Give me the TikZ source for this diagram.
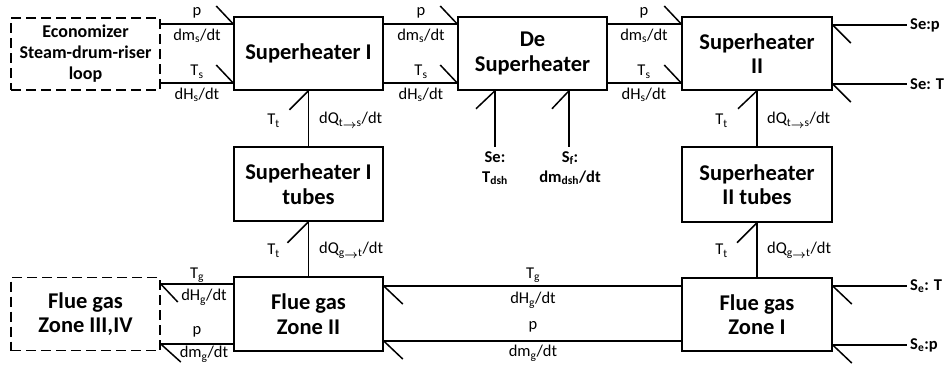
\documentclass[tikz,border=0pt]{standalone}
\usepackage{fontspec}
\usepackage{amsmath}
\setmainfont{Carlito}
\tikzset{
  x=1pt, y=-1pt,
  blk/.style={draw, line width=1.5pt, inner sep=0pt, align=center, font=\fontsize{22.5}{24.5}\selectfont\bfseries},
  dblk/.style={blk, dash pattern=on 10pt off 5pt},
  bond/.style={line width=1.5pt},
  lbl/.style={inner sep=0pt, font=\fontsize{16.5}{18}\selectfont},
  blbl/.style={inner sep=0pt, anchor=west, font=\fontsize{16.5}{18}\selectfont\bfseries},
}
\newcommand{\sub}[1]{\textsubscript{#1}}
\newcommand{\arr}{\raisebox{-2pt}{$\boldsymbol{\rightarrow}$}}
\begin{document}
\begin{tikzpicture}
\useasboundingbox (0,0) rectangle (952,365);
% blocks
\node[dblk, minimum width=149pt, minimum height=72pt, font=\fontsize{18}{21}\selectfont\bfseries] (econ) at (85.5,54) {Economizer\\Steam-drum-riser\\loop};
\node[blk, minimum width=149pt, minimum height=73pt] (sh1) at (308.5,53.5) {Superheater I};
\node[blk, minimum width=149pt, minimum height=73pt] (dsh) at (532.5,53.5) {De\\Superheater};
\node[blk, minimum width=150pt, minimum height=73pt] (sh2) at (757,53.5) {Superheater\\II};
\node[blk, minimum width=149pt, minimum height=74pt] (sh1t) at (308.5,184) {Superheater I\\tubes};
\node[blk, minimum width=150pt, minimum height=75pt] (sh2t) at (757,184.5) {Superheater\\II tubes};
\node[dblk, minimum width=149pt, minimum height=73pt] (fg34) at (85.5,314) {Flue gas\\Zone III,IV};
\node[blk, minimum width=149pt, minimum height=74pt] (fg2) at (308.5,314) {Flue gas\\Zone II};
\node[blk, minimum width=150pt, minimum height=73pt] (fg1) at (757,314.5) {Flue gas\\Zone I};
% free ends
\coordinate (o1) at (907,25);
\coordinate (o2) at (907,84);
\coordinate (o3) at (907,286);
\coordinate (o4) at (907,345);
\coordinate (d1) at (495,147);
\coordinate (d2) at (569,147);
% top bonds
\foreach \a/\b in {econ/sh1, sh1/dsh, dsh/sh2}{
  \draw[bond] (\a.east |- 0,24) -- (\b.west |- 0,24);
  \draw[bond] (\b.west |- 0,24) -- ++(-17,-18);
  \draw[bond] (\a.east |- 0,83) -- (\b.west |- 0,83);
  \draw[bond] (\b.west |- 0,83) -- ++(-17,-18);
}
% sh2 outputs
\draw[bond] (sh2.east |- o1) -- (o1);
\draw[bond] (sh2.east |- o1) -- ++(18,18);
\draw[bond] (sh2.east |- o2) -- (o2);
\draw[bond] (sh2.east |- o2) -- ++(18,18);
\node[blbl] (lo1) at ([xshift=3pt]o1) {Se:p};
\node[blbl] (lo2) at ([xshift=3pt]o2) {Se: T};
% vertical bonds
\draw[bond] (sh1.south) -- (sh1t.north);
\draw[bond] (sh1.south) -- ++(-19,19);
\draw[bond] (sh1t.south) -- (fg2.north);
\draw[bond] (sh1t.south) -- ++(-21,21);
\draw[bond] (sh2.south) -- (sh2t.north);
\draw[bond] (sh2.south) -- ++(-19,18);
\draw[bond] (sh2t.south) -- (fg1.north);
\draw[bond] (sh2t.south) -- ++(-20,20);
% desuperheater inputs
\draw[bond] (dsh.south -| d1) -- (d1);
\draw[bond] (dsh.south -| d1) -- ++(-19,18);
\draw[bond] (dsh.south -| d2) -- (d2);
\draw[bond] (dsh.south -| d2) -- ++(-17,18);
\node[lbl, font=\fontsize{16.5}{20}\selectfont\bfseries, align=center] (ld1) at (495,168) {Se:\\T\sub{dsh}};
\node[lbl, font=\fontsize{16.5}{20}\selectfont\bfseries, align=center] (ld2) at (570,168) {S\sub{f}:\\dm\sub{dsh}/dt};
% bottom bonds
\draw[bond] (fg34.east |- 0,284) -- (fg2.west |- 0,284);
\draw[bond] (fg34.east |- 0,284) -- ++(17,18);
\draw[bond] (fg34.east |- 0,344) -- (fg2.west |- 0,344);
\draw[bond] (fg34.east |- 0,344) -- ++(20,18);
\draw[bond] (fg2.east |- 0,286) -- (fg1.west |- 0,286);
\draw[bond] (fg2.east |- 0,286) -- ++(19,18);
\draw[bond] (fg2.east |- 0,341) -- (fg1.west |- 0,341);
\draw[bond] (fg2.east |- 0,341) -- ++(19,18);
\draw[bond] (fg1.east |- o3) -- (o3);
\draw[bond] (fg1.east |- o3) -- ++(19,18);
\draw[bond] (fg1.east |- o4) -- (o4);
\draw[bond] (fg1.east |- o4) -- ++(19,18);
\node[blbl] (lo3) at ([xshift=3pt]o3) {S\sub{e}: T};
\node[blbl] (lo4) at ([xshift=3pt]o4) {S\sub{e}:p};
% top labels
\foreach \x/\n in {197/a, 421/b, 644/c}{
  \node[lbl] (p\n) at (\x,13) {p};
  \node[lbl] (m\n) at (\x,36) {dm\sub{s}/dt};
  \node[lbl] (t\n) at (\x,72) {T\sub{s}};
  \node[lbl] (h\n) at (\x,95) {dH\sub{s}/dt};
}
% vertical labels
\foreach \x/\n in {309/a, 757/b}{
  \node[lbl, anchor=east] (tt1\n) at (\x-29,121) {T\sub{t}};
  \node[lbl, anchor=west] (qs\n) at (\x+10,120) {dQ\sub{t\arr s}/dt};
  \node[lbl, anchor=east] (tt2\n) at (\x-29,251) {T\sub{t}};
  \node[lbl, anchor=west] (qg\n) at (\x+10,250) {dQ\sub{g\arr t}/dt};
}
% bottom labels
\node[lbl] (tg1) at (197,275) {T\sub{g}};
\node[lbl] (hg1) at (204,297) {dH\sub{g}/dt};
\node[lbl] (pg1) at (197,332) {p};
\node[lbl] (mg1) at (204,354) {dm\sub{g}/dt};
\node[lbl] (tg2) at (533,275) {T\sub{g}};
\node[lbl] (hg2) at (533,300) {dH\sub{g}/dt};
\node[lbl] (pg2) at (533,327) {p};
\node[lbl] (mg2) at (533,353) {dm\sub{g}/dt};
\end{tikzpicture}
\end{document}
